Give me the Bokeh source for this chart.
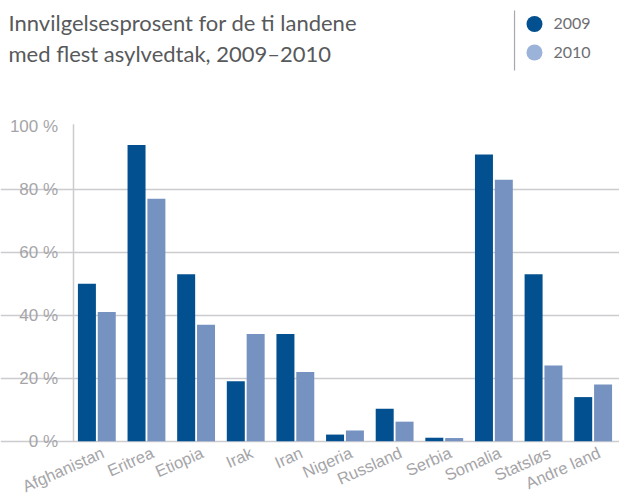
from bokeh.plotting import figure
from bokeh.models import ColumnDataSource, Range1d, FixedTicker, Grid
from bokeh.transform import dodge
from bokeh.core.properties import value
from bokeh.embed import file_html
from bokeh.resources import INLINE

# ---- data ----
categories = ["Afghanistan", "Eritrea", "Etiopia", "Irak", "Iran", "Nigeria",
              "Russland", "Serbia", "Somalia", "Statsløs", "Andre land"]
values_2009 = [50, 94, 53, 19, 34, 2.1, 10.3, 1.1, 91, 53, 14]
values_2010 = [41, 77, 37, 34, 22, 3.4, 6.2, 1.0, 83, 24, 18]
series_names = ["2009", "2010"]
y_ticks = [0, 20, 40, 60, 80, 100]
title_lines = ["Innvilgelsesprosent for de ti landene", "med flest asylvedtak, 2009\u20132010"]

# ---- styles / layout ----
C2009 = "#02508f"
C2010 = "#7692c1"
C2010_DOT = "#9bb3d9"
TITLE_FONT = "Lato"
AXIS_FONT = "Liberation Sans"
GRID = "#cbcbd0"
LABEL_GRAY = "#a5a5a8"
X0, X1 = -1.941, 10.531      # data range spanning the whole canvas width
Y0, Y1 = -17.24, 139.9       # data range spanning the whole canvas height
AXIS_X = -0.47               # where the value axis sits

src = ColumnDataSource(dict(x=list(range(len(categories))), name=categories,
                            v2009=values_2009, v2010=values_2010))

p = figure(width=619, height=495, x_range=Range1d(X0, X1), y_range=Range1d(Y0, Y1),
           output_backend="svg", toolbar_location=None, min_border=0,
           x_axis_location=None, y_axis_location=None)
p.outline_line_color = None
p.grid.visible = False

# horizontal grid lines (incl. baseline at 0), starting at the value axis
p.add_layout(Grid(dimension=1, ticker=FixedTicker(ticks=[t for t in y_ticks if t < 100]),
                  bounds=(AXIS_X, X1), grid_line_color=GRID, grid_line_width=1.5))

# bars
p.vbar(x=dodge("x", -0.2, range=p.x_range), top="v2009", width=0.3625, source=src,
       fill_color=C2009, line_color=None)
p.vbar(x=dodge("x", 0.2, range=p.x_range), top="v2010", width=0.3625, source=src,
       fill_color=C2010, line_color=None)

# value axis line and tick labels
p.segment(x0=[AXIS_X], y0=[0], x1=[AXIS_X], y1=[100.6], line_color=GRID, line_width=1.5)
p.text(x=[AXIS_X - 0.31] * len(y_ticks), y=y_ticks, text=[f"{t} %" for t in y_ticks],
       text_align="right", text_baseline="middle",
       text_font=value(AXIS_FONT), text_font_size="17px", text_color=LABEL_GRAY)

# category labels, rotated
p.text(x="x", y=-0.7, text="name", source=src, x_offset=2.5,
       angle=24, angle_units="deg", text_align="right", text_baseline="top",
       text_font=value(AXIS_FONT), text_font_size="16.5px", text_color=LABEL_GRAY)

# title
p.text(x=[X0, X0], y=[133.0, 123.0], text=title_lines, x_offset=8,
       text_font=value(TITLE_FONT), text_font_size="22px", text_color="#58595b",
       text_baseline="alphabetic", text_align="left")

# legend
p.segment(x0=[8.416], y0=[117.7], x1=[8.416], y1=[136.7], line_color="#a7a7ad", line_width=1.2)
p.scatter(x=[8.818, 8.818], y=[132.44, 123.4], size=16, color=[C2009, C2010_DOT], line_color=None)
p.text(x=[9.2, 9.2], y=[132.44, 123.4], text=series_names,
       text_font=value(TITLE_FONT), text_font_size="16px", text_color="#6d6e71",
       text_baseline="middle", text_align="left")

open("out.html", "w").write(file_html(p, INLINE))
